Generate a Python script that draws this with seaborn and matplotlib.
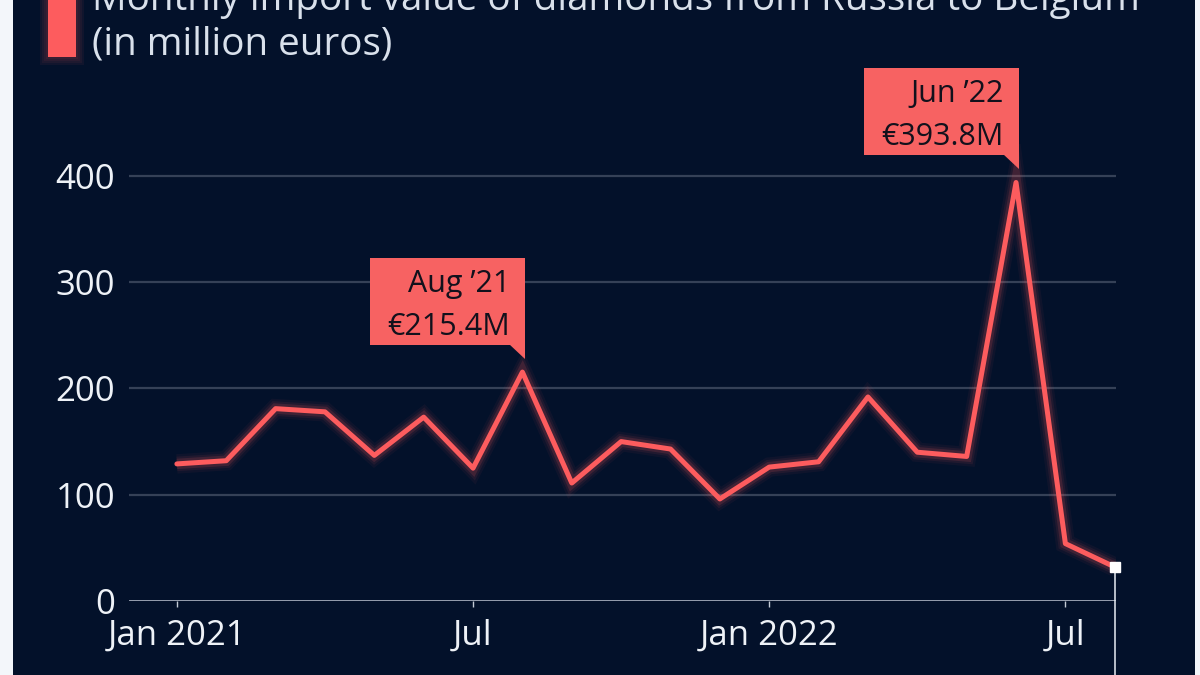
import pandas as pd
import seaborn as sns
import matplotlib
import matplotlib.pyplot as plt
from matplotlib import transforms
from matplotlib.patches import Rectangle, Polygon

matplotlib.use('Agg')

# Monthly import value of Russian diamonds into Belgium (million euros)
months = ["Jan 2021", "Feb 2021", "Mar 2021", "Apr 2021", "May 2021", "Jun 2021",
          "Jul 2021", "Aug 2021", "Sep 2021", "Oct 2021", "Nov 2021", "Dec 2021",
          "Jan 2022", "Feb 2022", "Mar 2022", "Apr 2022", "May 2022", "Jun 2022",
          "Jul 2022", "Aug 2022"]
values = [129, 132, 181, 178, 137, 173, 125, 215.4, 111, 150, 143, 96,
          126, 131, 192, 140, 136, 393.8, 54, 32]

tick_months = ["Jan 2021", "Jul 2021", "Jan 2022", "Jul 2022"]
tick_labels = ["Jan 2021", "Jul", "Jan 2022", "Jul"]
y_ticks = [0, 100, 200, 300, 400]

callouts = [("Aug 2021", "Aug \u201921", "\u20ac215.4M"),
            ("Jun 2022", "Jun \u201922", "\u20ac393.8M")]

df = pd.DataFrame({"month": months, "value": values})
df["pos"] = range(len(df))
pos_of = dict(zip(df["month"], df["pos"]))

BG = "#03112a"
RED = "#fd5c5e"
BOX = "#f76262"
TXT = "#eef2f7"

sns.set_theme(style="dark")
plt.rcParams['font.family'] = ['Open Sans', 'DejaVu Sans']

fig = plt.figure(figsize=(12, 6.75), dpi=100)
fig.patch.set_facecolor("#f3f6fa")

# dark panel
fig.patches.append(Rectangle((13 / 1200, 0), (1195 - 13) / 1200, 1,
                             transform=fig.transFigure, fc=BG, ec="none", zorder=-2))
# red header marker with soft glow
for w in [8, 6, 4, 2]:
    fig.patches.append(Rectangle(((48 - w) / 1200, (675 - 57 - w) / 675),
                                 (28 + 2 * w) / 1200, (57 + 2 * w) / 675,
                                 transform=fig.transFigure, fc=RED, ec="none",
                                 alpha=0.06, zorder=-1))
fig.patches.append(Rectangle((48 / 1200, (675 - 57) / 675), 28 / 1200, 57 / 675,
                             transform=fig.transFigure, fc=RED, ec="none", zorder=-1))

fig.text(92 / 1200, 1 - 10 / 675, "Monthly import value of diamonds from Russia to Belgium",
         color="#d9e1ec", fontsize=27.8, va="baseline", ha="left")
fig.text(92 / 1200, 1 - 55 / 675, "(in million euros)",
         color="#d9e1ec", fontsize=27.8, va="baseline", ha="left")

ax = fig.add_axes([129 / 1200, 74 / 675, 0.8227, 457 / 675])
ax.set_facecolor(BG)
ax.patch.set_alpha(0)

# glow under the line
for lw, a in [(14, 0.05), (10.5, 0.08), (7.5, 0.14)]:
    ax.plot(df["pos"], df["value"], color=RED, lw=lw, alpha=a,
            solid_joinstyle="miter", solid_capstyle="butt", zorder=3)
sns.lineplot(data=df, x="pos", y="value", ax=ax, color=RED, lw=3.6, zorder=4)

ax.set_xlim(-0.97, len(df) - 1 + 0.03)
ax.set_ylim(0, 430)

for yv in y_ticks[1:]:
    ax.axhline(yv, color="#354157", lw=1.6, zorder=1)
ax.axhline(0, color="#c3cad6", lw=1.8, zorder=2)

ax.set_yticks(y_ticks)
ax.set_yticklabels([str(v) for v in y_ticks])
ax.set_xticks([pos_of[m] for m in tick_months])
ax.set_xticklabels(tick_labels)
ax.tick_params(axis="y", length=0, pad=10, labelsize=25, labelcolor=TXT)
ax.tick_params(axis="x", length=4, width=1, color="#c3cad6", direction="out",
               pad=9, labelsize=25, labelcolor=TXT, bottom=True)
ax.set_xlabel("")
ax.set_ylabel("")
ax.grid(False)
for s in ax.spines.values():
    s.set_visible(False)

# end marker and crosshair
last = df.iloc[-1]
ax.plot([last["pos"], last["pos"]], [last["value"], -75], color="#e8edf3", lw=1.1,
        clip_on=False, zorder=5)
ax.plot(last["pos"], last["value"], marker="s", ms=7, color="white", mec="white",
        clip_on=False, zorder=6)

# callout boxes anchored to the data points (offsets in pixels)
for key, line1, line2 in callouts:
    x = pos_of[key]
    y = df.loc[df["month"] == key, "value"].iloc[0]
    anchor = transforms.ScaledTranslation(x, y, ax.transData)
    tr = transforms.Affine2D() + anchor
    ax.add_patch(Rectangle((-152, 27), 155, 87, transform=tr, fc=BOX, ec="none",
                           clip_on=False, zorder=7))
    ax.add_patch(Polygon([(-13, 28), (3, 28), (3, 13)], closed=True, transform=tr,
                         fc=BOX, ec="none", clip_on=False, zorder=7))
    ax.text(0, 0, line1, transform=transforms.Affine2D().translate(-12, 80) + anchor,
            ha="right", va="baseline", fontsize=22, fontweight="medium",
            color="#12111c", zorder=8, clip_on=False)
    ax.text(0, 0, line2, transform=transforms.Affine2D().translate(-12, 37) + anchor,
            ha="right", va="baseline", fontsize=22, fontweight="medium",
            color="#12111c", zorder=8, clip_on=False)

plt.savefig("out.png", dpi=100, facecolor=fig.get_facecolor())
plt.close()
